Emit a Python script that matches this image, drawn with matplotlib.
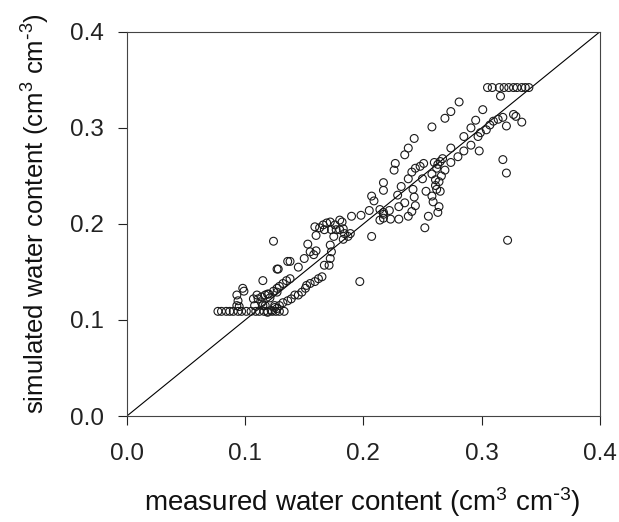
import numpy as np
import matplotlib.pyplot as plt

plt.rcParams['font.family'] = ['Liberation Sans', 'DejaVu Sans']
plt.rcParams['mathtext.default'] = 'regular'

# measured / simulated water content (cm3 cm-3)
measured = [
    # flat row at the lower bound
    0.077, 0.080, 0.084, 0.087, 0.090, 0.094, 0.097, 0.101, 0.105, 0.109,
    0.112, 0.116, 0.119, 0.123, 0.126, 0.129, 0.133,
    # low cluster
    0.093, 0.094, 0.093, 0.099, 0.098, 0.110, 0.111, 0.120, 0.121, 0.127,
    0.114, 0.115, 0.125, 0.127, 0.107, 0.108, 0.095, 0.117, 0.115, 0.127,
    0.128, 0.124, 0.136,
    0.138, 0.135, 0.132, 0.129, 0.127, 0.124, 0.119, 0.117, 0.114,
    0.165, 0.162, 0.159, 0.155, 0.152, 0.151, 0.148, 0.145, 0.142, 0.139,
    0.136, 0.132, 0.129, 0.125, 0.122, 0.119,
    0.153, 0.155, 0.160, 0.158, 0.150, 0.145, 0.138,
    0.172, 0.173, 0.172, 0.167, 0.171,
    # cluster around 0.17-0.2
    0.159, 0.163, 0.166, 0.169, 0.172, 0.176, 0.180, 0.182, 0.177, 0.180,
    0.183, 0.184, 0.189, 0.187, 0.183, 0.175, 0.173, 0.167, 0.160,
    0.190, 0.198, 0.197, 0.207,
    0.205, 0.207, 0.209, 0.214, 0.217, 0.214, 0.217,
    # upper part
    0.305, 0.309, 0.315, 0.319, 0.323, 0.327, 0.330, 0.334, 0.337, 0.340,
    0.316, 0.281, 0.274, 0.269, 0.301, 0.258, 0.243, 0.238, 0.235, 0.227,
    0.226, 0.217, 0.217, 0.295, 0.291, 0.314, 0.318, 0.310, 0.307, 0.304,
    0.299, 0.297, 0.321, 0.327, 0.329, 0.334, 0.285, 0.291, 0.298, 0.274,
    0.285, 0.280, 0.274, 0.267, 0.265, 0.263, 0.269, 0.260, 0.251, 0.248,
    0.244, 0.241, 0.238, 0.250, 0.258, 0.261, 0.261, 0.262, 0.265, 0.232,
    0.229, 0.242, 0.243, 0.253, 0.258, 0.259, 0.244, 0.235, 0.230, 0.264,
    0.263, 0.241, 0.238, 0.255, 0.252, 0.230, 0.223, 0.222, 0.217,
    0.318, 0.321, 0.322, 0.262, 0.266, 0.264,
]
simulated = [
    0.109, 0.109, 0.109, 0.109, 0.109, 0.109, 0.109, 0.109, 0.109, 0.109,
    0.109, 0.109, 0.109, 0.109, 0.109, 0.109, 0.109,
    0.126, 0.120, 0.115, 0.130, 0.133, 0.126, 0.122, 0.127, 0.123, 0.129,
    0.118, 0.115, 0.115, 0.112, 0.122, 0.115, 0.114, 0.115, 0.141, 0.153,
    0.153, 0.182, 0.161,
    0.143, 0.141, 0.138, 0.135, 0.133, 0.130, 0.127, 0.126, 0.124,
    0.145, 0.143, 0.140, 0.138, 0.136, 0.133, 0.129, 0.126, 0.126, 0.122,
    0.120, 0.118, 0.115, 0.113, 0.110, 0.108,
    0.179, 0.171, 0.172, 0.168, 0.164, 0.155, 0.161,
    0.178, 0.171, 0.164, 0.157, 0.157,
    0.197, 0.196, 0.199, 0.201, 0.202, 0.199, 0.204, 0.202, 0.194, 0.194,
    0.195, 0.190, 0.190, 0.187, 0.184, 0.187, 0.194, 0.194, 0.188,
    0.208, 0.209, 0.140, 0.187,
    0.214, 0.229, 0.224, 0.215, 0.212, 0.204, 0.206,
    0.342, 0.342, 0.342, 0.342, 0.342, 0.342, 0.342, 0.342, 0.342, 0.342,
    0.333, 0.327, 0.317, 0.310, 0.319, 0.301, 0.289, 0.279, 0.272, 0.263,
    0.256, 0.243, 0.235, 0.308, 0.300, 0.309, 0.311, 0.307, 0.303, 0.298,
    0.295, 0.291, 0.302, 0.314, 0.312, 0.306, 0.291, 0.282, 0.276, 0.279,
    0.276, 0.270, 0.264, 0.268, 0.265, 0.262, 0.256, 0.264, 0.263, 0.260,
    0.258, 0.254, 0.247, 0.247, 0.252, 0.246, 0.240, 0.236, 0.234, 0.239,
    0.230, 0.236, 0.228, 0.234, 0.229, 0.223, 0.219, 0.222, 0.218, 0.218,
    0.212, 0.213, 0.208, 0.208, 0.196, 0.205, 0.205, 0.214, 0.210,
    0.267, 0.253, 0.183, 0.258, 0.250, 0.244,
]

ticks = [0.0, 0.1, 0.2, 0.3, 0.4]
unit = r' (cm$^3$ cm$^{\text{-}3}$)'

fig = plt.figure(figsize=(6.19, 5.22), dpi=100)
ax = fig.add_axes([0.205, 0.203, 0.764, 0.736])

ax.plot([0, 0.4], [0, 0.4], color='black', lw=0.8)
ax.scatter(measured, simulated, s=32, facecolors='none', edgecolors='#1a1a1a',
           linewidths=0.8, zorder=3)

ax.set_xlim(0, 0.4)
ax.set_ylim(0, 0.4)
ax.set_xticks(ticks)
ax.set_yticks(ticks)
ax.set_xticklabels(['%.1f' % t for t in ticks])
ax.set_yticklabels(['%.1f' % t for t in ticks])
ax.tick_params(direction='out', length=6.5, width=0.8, labelsize=17.5,
               colors='#222222')
ax.tick_params(axis='x', pad=13)
ax.tick_params(axis='y', pad=10)
for sp in ax.spines.values():
    sp.set_linewidth(0.8)
    sp.set_color('#444444')

fig.text(0.585, 0.038, 'measured water content' + unit, fontsize=20,
         ha='center', va='center', color='#111111')
fig.text(0.058, 0.59, 'simulated water content' + unit, fontsize=18.5,
         ha='center', va='center', rotation=90, color='#111111')

fig.savefig('out.png', dpi=100)
